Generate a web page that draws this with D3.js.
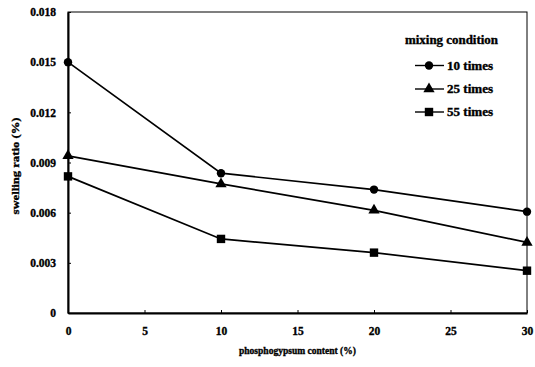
<!DOCTYPE html>
<html>
<head>
<meta charset="utf-8">
<script src="https://cdn.jsdelivr.net/npm/d3@7"></script>
<style>
  html, body { margin: 0; padding: 0; background: #fff; }
  svg { display: block; }
  text { font-family: "Liberation Serif", "DejaVu Serif", serif; font-weight: bold; fill: #000; stroke: #000; stroke-width: 0.35; }
</style>
</head>
<body>
<svg id="chart" width="535" height="367"></svg>
<script>
// data
const contents = [0, 10, 20, 30];
const times10 = [0.0150, 0.00836, 0.00738, 0.00606];
const times25 = [0.00940, 0.00772, 0.00614, 0.00422];
const times55 = [0.00817, 0.00443, 0.00361, 0.00253];
const seriesNames = ["10 times", "25 times", "55 times"];
const markerTypes = ["circle", "triangle", "square"];
const xTicks = [0, 5, 10, 15, 20, 25, 30];
const yTicks = [0, 0.003, 0.006, 0.009, 0.012, 0.015, 0.018];

const svg = d3.select("#chart");
const margin = {left: 68, top: 12, right: 8, bottom: 54};
const width = 535, height = 367;

const x = d3.scaleLinear().domain([0, 30]).range([margin.left, width - margin.right]);
const y = d3.scaleLinear().domain([0, 0.018]).range([height - margin.bottom, margin.top]);

const allSeries = [times10, times25, times55];

// frame (top + right)
svg.append("rect")
    .attr("x", x(0)).attr("y", y(0.018))
    .attr("width", x(30) - x(0)).attr("height", y(0) - y(0.018))
    .attr("fill", "none").attr("stroke", "#000").attr("stroke-width", 1);

// axes
const yAxis = svg.append("g")
    .attr("transform", `translate(${x(0)},0)`)
    .call(d3.axisLeft(y).tickValues(yTicks).tickSizeInner(-3).tickSizeOuter(0)
        .tickFormat(d => d === 0 ? "0" : d3.format(".3f")(d)));
yAxis.select(".domain").attr("stroke-width", 2);
yAxis.selectAll("text").attr("x", -12).attr("font-size", 11.5).attr("font-family", null);

const xAxis = svg.append("g")
    .attr("transform", `translate(0,${y(0)})`)
    .call(d3.axisBottom(x).tickValues(xTicks).tickSizeInner(-3).tickSizeOuter(0));
xAxis.select(".domain").attr("stroke-width", 2);
xAxis.selectAll("text").attr("y", 14).attr("font-size", 11.5).attr("font-family", null);

// axis titles
svg.append("text")
    .attr("x", (x(0) + x(30)) / 2).attr("y", 354)
    .attr("text-anchor", "middle").attr("font-size", 10)
    .attr("textLength", 117).attr("lengthAdjust", "spacingAndGlyphs")
    .text("phosphogypsum content (%)");

svg.append("text")
    .attr("transform", "translate(19,166) rotate(-90)")
    .attr("text-anchor", "middle").attr("font-size", 11)
    .attr("textLength", 97).attr("lengthAdjust", "spacingAndGlyphs")
    .text("swelling ratio (%)");

const line = d3.line().x((d, i) => x(contents[i])).y(d => y(d));

function drawMarker(g, type, cx, cy) {
    if (type === "circle") {
        g.append("circle").attr("cx", cx).attr("cy", cy).attr("r", 4.2).attr("fill", "#000");
    } else if (type === "triangle") {
        g.append("path")
            .attr("d", d3.symbol().type(d3.symbolTriangle).size(55)())
            .attr("transform", `translate(${cx},${cy})`).attr("fill", "#000");
    } else {
        g.append("rect").attr("x", cx - 4.2).attr("y", cy - 4.2)
            .attr("width", 8.4).attr("height", 8.4).attr("fill", "#000");
    }
}

allSeries.forEach((vals, si) => {
    const g = svg.append("g");
    g.append("path").datum(vals)
        .attr("d", line).attr("fill", "none")
        .attr("stroke", "#000").attr("stroke-width", 1.7);
    vals.forEach((v, i) => drawMarker(g, markerTypes[si], x(contents[i]), y(v)));
});

// legend
const legend = svg.append("g");
legend.append("text")
    .attr("x", 405).attr("y", 44).attr("font-size", 12)
    .attr("textLength", 93).attr("lengthAdjust", "spacingAndGlyphs")
    .text("mixing condition");

const legendY = [65.5, 89, 112];
seriesNames.forEach((name, si) => {
    const ly = legendY[si];
    legend.append("line")
        .attr("x1", 415).attr("x2", 444).attr("y1", ly).attr("y2", ly)
        .attr("stroke", "#000").attr("stroke-width", 1.4);
    drawMarker(legend, markerTypes[si], 429, ly);
    legend.append("text")
        .attr("x", 447).attr("y", ly + 4).attr("font-size", 12)
        .attr("textLength", 46).attr("lengthAdjust", "spacingAndGlyphs")
        .text(name);
});
</script>
</body>
</html>
